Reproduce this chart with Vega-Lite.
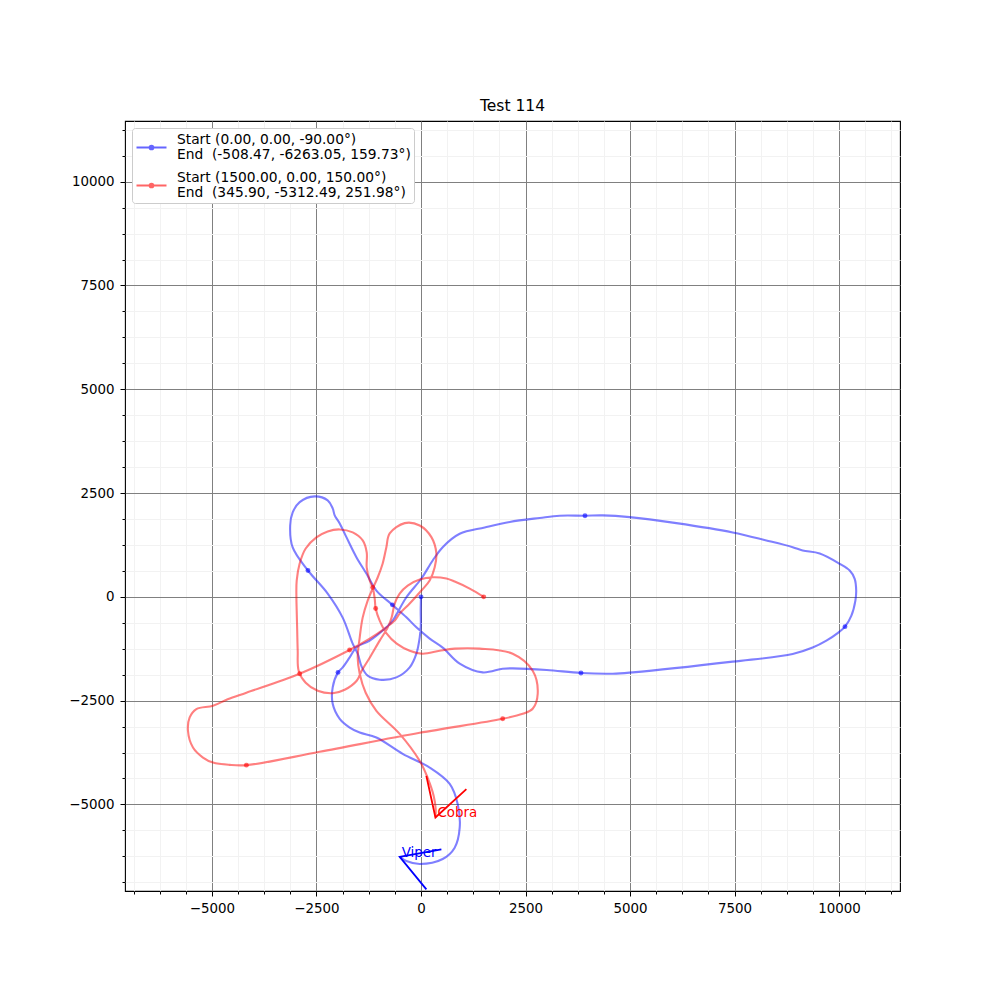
{
  "$schema": "https://vega.github.io/schema/vega-lite/v6.json",
  "width": 775,
  "height": 770,
  "autosize": "none",
  "padding": {"left": 125, "top": 121, "right": 100, "bottom": 109},
  "background": "white",
  "title": {"text": "Test 114", "font": "DejaVu Sans", "fontSize": 15.5, "fontWeight": "normal", "color": "black", "offset": 7},
  "config": {
    "view": {"stroke": "black", "strokeWidth": 1.1},
    "legend": {
      "title": null, "orient": "top-left", "offset": 7, "padding": 3,
      "strokeColor": "#cccccc", "fillColor": "#ffffff", "cornerRadius": 3,
      "labelFont": "DejaVu Sans", "labelFontSize": 13.8, "labelColor": "black", "labelLimit": 400, "labelOffset": 9,
      "symbolType": "M-1,0L1,0M-0.12,0a0.12,0.12 0 1,0 0.24,0a0.12,0.12 0 1,0 -0.24,0",
      "symbolSize": 900, "symbolStrokeWidth": 2.1, "symbolOpacity": 0.6, "rowPadding": 7
    }
  },
  "datasets": {
    "paths": [
      {"s":"Viper","i":1,"x":0,"y":0},{"s":"Viper","i":2,"x":-7,"y":-330},{"s":"Viper","i":3,"x":-5,"y":-692},{"s":"Viper","i":4,"x":-31,"y":-982},
      {"s":"Viper","i":5,"x":-110,"y":-1368},{"s":"Viper","i":6,"x":-270,"y":-1699},{"s":"Viper","i":7,"x":-588,"y":-1940},{"s":"Viper","i":8,"x":-988,"y":-1995},
      {"s":"Viper","i":9,"x":-1275,"y":-1899},{"s":"Viper","i":10,"x":-1418,"y":-1682},{"s":"Viper","i":11,"x":-1514,"y":-1368},{"s":"Viper","i":12,"x":-1634,"y":-1127},
      {"s":"Viper","i":13,"x":-1873,"y":-500},{"s":"Viper","i":14,"x":-2232,"y":80},{"s":"Viper","i":15,"x":-2703,"y":635},{"s":"Viper","i":16,"x":-3069,"y":1190},
      {"s":"Viper","i":17,"x":-3129,"y":1720},{"s":"Viper","i":18,"x":-3069,"y":2034},{"s":"Viper","i":19,"x":-2902,"y":2283},{"s":"Viper","i":20,"x":-2543,"y":2420},
      {"s":"Viper","i":21,"x":-2232,"y":2324},{"s":"Viper","i":22,"x":-2112,"y":2131},{"s":"Viper","i":23,"x":-2064,"y":1962},{"s":"Viper","i":24,"x":-1944,"y":1769},
      {"s":"Viper","i":25,"x":-1784,"y":1438},{"s":"Viper","i":26,"x":-1545,"y":956},{"s":"Viper","i":27,"x":-1306,"y":562},{"s":"Viper","i":28,"x":-1067,"y":152},
      {"s":"Viper","i":29,"x":-684,"y":-193},{"s":"Viper","i":30,"x":-349,"y":-492},{"s":"Viper","i":31,"x":-110,"y":-734},{"s":"Viper","i":32,"x":208,"y":-1006},
      {"s":"Viper","i":33,"x":519,"y":-1223},{"s":"Viper","i":34,"x":926,"y":-1609},{"s":"Viper","i":35,"x":1476,"y":-1819},{"s":"Viper","i":36,"x":1954,"y":-1730},
      {"s":"Viper","i":37,"x":2198,"y":-1723},{"s":"Viper","i":38,"x":3007,"y":-1761},{"s":"Viper","i":39,"x":3827,"y":-1834},{"s":"Viper","i":40,"x":4585,"y":-1851},
      {"s":"Viper","i":41,"x":5064,"y":-1819},{"s":"Viper","i":42,"x":7456,"y":-1561},{"s":"Viper","i":43,"x":8891,"y":-1376},{"s":"Viper","i":44,"x":9369,"y":-1221},
      {"s":"Viper","i":45,"x":9697,"y":-1054},{"s":"Viper","i":46,"x":9967,"y":-873},{"s":"Viper","i":47,"x":10142,"y":-717},{"s":"Viper","i":48,"x":10295,"y":-452},
      {"s":"Viper","i":49,"x":10391,"y":-89},{"s":"Viper","i":50,"x":10410,"y":152},{"s":"Viper","i":51,"x":10374,"y":434},{"s":"Viper","i":52,"x":10255,"y":634},
      {"s":"Viper","i":53,"x":10016,"y":796},{"s":"Viper","i":54,"x":9537,"y":1045},{"s":"Viper","i":55,"x":9130,"y":1117},{"s":"Viper","i":56,"x":8891,"y":1197},
      {"s":"Viper","i":57,"x":8262,"y":1359},{"s":"Viper","i":58,"x":7456,"y":1552},{"s":"Viper","i":59,"x":6109,"y":1776},{"s":"Viper","i":60,"x":4992,"y":1921},
      {"s":"Viper","i":61,"x":4346,"y":1962},{"s":"Viper","i":62,"x":3923,"y":1955},{"s":"Viper","i":63,"x":3318,"y":1955},{"s":"Viper","i":64,"x":2839,"y":1901},
      {"s":"Viper","i":65,"x":2122,"y":1805},{"s":"Viper","i":66,"x":1524,"y":1672},{"s":"Viper","i":67,"x":926,"y":1520},{"s":"Viper","i":68,"x":519,"y":1197},
      {"s":"Viper","i":69,"x":280,"y":876},{"s":"Viper","i":70,"x":10,"y":442},{"s":"Viper","i":71,"x":-349,"y":-10},{"s":"Viper","i":72,"x":-677,"y":-572},
      {"s":"Viper","i":73,"x":-828,"y":-734},{"s":"Viper","i":74,"x":-1227,"y":-1054},{"s":"Viper","i":75,"x":-1545,"y":-1216},{"s":"Viper","i":76,"x":-1705,"y":-1457},
      {"s":"Viper","i":77,"x":-1873,"y":-1699},{"s":"Viper","i":78,"x":-1985,"y":-1819},{"s":"Viper","i":79,"x":-2112,"y":-2181},{"s":"Viper","i":80,"x":-2112,"y":-2575},
      {"s":"Viper","i":81,"x":-1944,"y":-2937},{"s":"Viper","i":82,"x":-1705,"y":-3147},{"s":"Viper","i":83,"x":-1466,"y":-3267},{"s":"Viper","i":84,"x":-1067,"y":-3388},
      {"s":"Viper","i":85,"x":-438,"y":-3781},{"s":"Viper","i":86,"x":208,"y":-4112},{"s":"Viper","i":87,"x":687,"y":-4505},{"s":"Viper","i":88,"x":878,"y":-4988},
      {"s":"Viper","i":89,"x":926,"y":-5560},{"s":"Viper","i":90,"x":806,"y":-6042},{"s":"Viper","i":91,"x":519,"y":-6315},{"s":"Viper","i":92,"x":-31,"y":-6436},
      {"s":"Viper","i":93,"x":-349,"y":-6364},{"s":"Viper","i":94,"x":-508.47,"y":-6263.05},
      {"s":"Cobra","i":1,"x":1500,"y":0},{"s":"Cobra","i":2,"x":1165,"y":200},{"s":"Cobra","i":3,"x":806,"y":369},{"s":"Cobra","i":4,"x":608,"y":442},
      {"s":"Cobra","i":5,"x":280,"y":473},{"s":"Cobra","i":6,"x":-31,"y":417},{"s":"Cobra","i":7,"x":-318,"y":273},{"s":"Cobra","i":8,"x":-510,"y":80},
      {"s":"Cobra","i":9,"x":-629,"y":-162},{"s":"Cobra","i":10,"x":-701,"y":-492},{"s":"Cobra","i":11,"x":-797,"y":-741},{"s":"Cobra","i":12,"x":-988,"y":-1054},
      {"s":"Cobra","i":13,"x":-1227,"y":-1465},{"s":"Cobra","i":14,"x":-1418,"y":-1779},{"s":"Cobra","i":15,"x":-1538,"y":-2020},{"s":"Cobra","i":16,"x":-1825,"y":-2237},
      {"s":"Cobra","i":17,"x":-2112,"y":-2321},{"s":"Cobra","i":18,"x":-2471,"y":-2261},{"s":"Cobra","i":19,"x":-2758,"y":-2068},{"s":"Cobra","i":20,"x":-2926,"y":-1779},
      {"s":"Cobra","i":21,"x":-2949,"y":-1297},{"s":"Cobra","i":22,"x":-2961,"y":-813},{"s":"Cobra","i":23,"x":-2973,"y":-331},{"s":"Cobra","i":24,"x":-2980,"y":-17},
      {"s":"Cobra","i":25,"x":-2973,"y":393},{"s":"Cobra","i":26,"x":-2902,"y":803},{"s":"Cobra","i":27,"x":-2758,"y":1165},{"s":"Cobra","i":28,"x":-2502,"y":1431},
      {"s":"Cobra","i":29,"x":-2232,"y":1576},{"s":"Cobra","i":30,"x":-1944,"y":1624},{"s":"Cobra","i":31,"x":-1633,"y":1552},{"s":"Cobra","i":32,"x":-1394,"y":1359},
      {"s":"Cobra","i":33,"x":-1298,"y":1069},{"s":"Cobra","i":34,"x":-1298,"y":707},{"s":"Cobra","i":35,"x":-1227,"y":393},{"s":"Cobra","i":36,"x":-1155,"y":224},
      {"s":"Cobra","i":37,"x":-1107,"y":-41},{"s":"Cobra","i":38,"x":-1084,"y":-282},{"s":"Cobra","i":39,"x":-988,"y":-572},{"s":"Cobra","i":40,"x":-820,"y":-886},
      {"s":"Cobra","i":41,"x":-581,"y":-1127},{"s":"Cobra","i":42,"x":-270,"y":-1297},{"s":"Cobra","i":43,"x":41,"y":-1369},{"s":"Cobra","i":44,"x":447,"y":-1297},
      {"s":"Cobra","i":45,"x":806,"y":-1248},{"s":"Cobra","i":46,"x":1404,"y":-1248},{"s":"Cobra","i":47,"x":2193,"y":-1369},{"s":"Cobra","i":48,"x":2672,"y":-1779},
      {"s":"Cobra","i":49,"x":2792,"y":-2334},{"s":"Cobra","i":50,"x":2672,"y":-2696},{"s":"Cobra","i":51,"x":2433,"y":-2816},{"s":"Cobra","i":52,"x":1954,"y":-2937},
      {"s":"Cobra","i":53,"x":-31,"y":-3275},{"s":"Cobra","i":54,"x":-2423,"y":-3733},{"s":"Cobra","i":55,"x":-4176,"y":-4054},{"s":"Cobra","i":56,"x":-4577,"y":-4047},
      {"s":"Cobra","i":57,"x":-4975,"y":-3991},{"s":"Cobra","i":58,"x":-5215,"y":-3870},{"s":"Cobra","i":59,"x":-5454,"y":-3629},{"s":"Cobra","i":60,"x":-5574,"y":-3226},
      {"s":"Cobra","i":61,"x":-5533,"y":-2905},{"s":"Cobra","i":62,"x":-5373,"y":-2703},{"s":"Cobra","i":63,"x":-4975,"y":-2623},{"s":"Cobra","i":64,"x":-4624,"y":-2468},
      {"s":"Cobra","i":65,"x":-4176,"y":-2307},{"s":"Cobra","i":66,"x":-2902,"y":-1851},{"s":"Cobra","i":67,"x":-1708,"y":-1279},{"s":"Cobra","i":68,"x":-1227,"y":-1006},
      {"s":"Cobra","i":69,"x":-868,"y":-765},{"s":"Cobra","i":70,"x":-629,"y":-572},{"s":"Cobra","i":71,"x":-510,"y":-403},{"s":"Cobra","i":72,"x":-270,"y":-162},
      {"s":"Cobra","i":73,"x":10,"y":152},{"s":"Cobra","i":74,"x":208,"y":393},{"s":"Cobra","i":75,"x":328,"y":714},{"s":"Cobra","i":76,"x":368,"y":1045},
      {"s":"Cobra","i":77,"x":249,"y":1438},{"s":"Cobra","i":78,"x":-31,"y":1720},{"s":"Cobra","i":79,"x":-390,"y":1776},{"s":"Cobra","i":80,"x":-749,"y":1527},
      {"s":"Cobra","i":81,"x":-828,"y":1197},{"s":"Cobra","i":82,"x":-916,"y":804},{"s":"Cobra","i":83,"x":-1036,"y":466},{"s":"Cobra","i":84,"x":-1155,"y":200},
      {"s":"Cobra","i":85,"x":-1275,"y":-89},{"s":"Cobra","i":86,"x":-1395,"y":-500},{"s":"Cobra","i":87,"x":-1466,"y":-982},{"s":"Cobra","i":88,"x":-1514,"y":-1465},
      {"s":"Cobra","i":89,"x":-1466,"y":-1851},{"s":"Cobra","i":90,"x":-1323,"y":-2309},{"s":"Cobra","i":91,"x":-1067,"y":-2744},{"s":"Cobra","i":92,"x":-510,"y":-3299},
      {"s":"Cobra","i":93,"x":-31,"y":-3950},{"s":"Cobra","i":94,"x":160,"y":-4360},{"s":"Cobra","i":95,"x":304,"y":-4795},{"s":"Cobra","i":96,"x":352,"y":-5109},
      {"s":"Cobra","i":97,"x":345.9,"y":-5312.49}
    ],
    "markers": [
      {"s":"Viper","x":0,"y":0},{"s":"Viper","x":-2703,"y":635},{"s":"Viper","x":-684,"y":-193},{"s":"Viper","x":3827,"y":-1834},
      {"s":"Viper","x":10142,"y":-717},{"s":"Viper","x":3923,"y":1955},{"s":"Viper","x":-1985,"y":-1819},
      {"s":"Cobra","x":1500,"y":0},{"s":"Cobra","x":-1155,"y":224},{"s":"Cobra","x":-1084,"y":-282},{"s":"Cobra","x":1954,"y":-2937},
      {"s":"Cobra","x":-4176,"y":-4054},{"s":"Cobra","x":-2902,"y":-1851},{"s":"Cobra","x":-1708,"y":-1279}
    ],
    "glyphs": [
      {"s":"Cobra","i":1,"x":128,"y":-4313},{"s":"Cobra","i":2,"x":345.9,"y":-5312.49},{"s":"Cobra","i":3,"x":1086,"y":-4633},
      {"s":"Viper","i":1,"x":488,"y":-6081},{"s":"Viper","i":2,"x":-508.47,"y":-6263.05},{"s":"Viper","i":3,"x":129,"y":-7046}
    ],
    "tags": [
      {"s":"Cobra","x":345.9,"y":-5312.49},
      {"s":"Viper","x":-508.47,"y":-6263.05}
    ]
  },
  "encoding": {
    "x": {
      "field": "x", "type": "quantitative",
      "scale": {"domain": [-7080, 11458], "nice": false, "zero": false},
      "axis": {
        "title": null, "domain": false, "format": "d",
        "values": [-6875,-6250,-5625,-5000,-4375,-3750,-3125,-2500,-1875,-1250,-625,0,625,1250,1875,2500,3125,3750,4375,5000,5625,6250,6875,7500,8125,8750,9375,10000,10625,11250],
        "labelExpr": "datum.value % 2500 === 0 ? datum.label : ''",
        "labelOverlap": false, "labelFlush": false,
        "labelFont": "DejaVu Sans", "labelFontSize": 13.4, "labelColor": "black", "labelPadding": 5,
        "tickColor": "black", "tickWidth": 1,
        "tickSize": {"condition": {"test": "datum.value % 2500 === 0", "value": 5}, "value": 3},
        "grid": true, "gridWidth": 1,
        "gridColor": {"condition": {"test": "datum.value % 2500 === 0", "value": "#808080"}, "value": "#f2f2f2"}
      }
    },
    "y": {
      "field": "y", "type": "quantitative",
      "scale": {"domain": [-7085, 11462], "nice": false, "zero": false},
      "axis": {
        "title": null, "domain": false, "format": "d",
        "values": [-6875,-6250,-5625,-5000,-4375,-3750,-3125,-2500,-1875,-1250,-625,0,625,1250,1875,2500,3125,3750,4375,5000,5625,6250,6875,7500,8125,8750,9375,10000,10625,11250],
        "labelExpr": "datum.value % 2500 === 0 ? datum.label : ''",
        "labelOverlap": false, "labelFlush": false,
        "labelFont": "DejaVu Sans", "labelFontSize": 13.4, "labelColor": "black", "labelPadding": 6,
        "tickColor": "black", "tickWidth": 1,
        "tickSize": {"condition": {"test": "datum.value % 2500 === 0", "value": 5}, "value": 3},
        "grid": true, "gridWidth": 1,
        "gridColor": {"condition": {"test": "datum.value % 2500 === 0", "value": "#808080"}, "value": "#f2f2f2"}
      }
    }
  },
  "layer": [
    {
      "data": {"name": "paths"},
      "mark": {"type": "line", "interpolate": "catmull-rom", "strokeWidth": 2.1, "opacity": 0.5, "clip": true},
      "encoding": {
        "order": {"field": "i", "type": "quantitative"},
        "color": {
          "field": "s", "type": "nominal",
          "scale": {"domain": ["Viper", "Cobra"], "range": ["#0000ff", "#ff0000"]},
          "legend": {
            "labelBaseline": "alphabetic",
            "labelExpr": "datum.label == 'Viper' ? ['Start (0.00, 0.00, -90.00°)', '\u00a0End\u00a0\u00a0(-508.47, -6263.05, 159.73°)'] : ['Start (1500.00, 0.00, 150.00°)', '\u00a0End\u00a0\u00a0(345.90, -5312.49, 251.98°)']",
            "encode": {"labels": {"update": {"lineHeight": {"value": 15}, "dy": {"value": -4}}}}
          }
        }
      }
    },
    {
      "data": {"name": "markers"},
      "mark": {"type": "circle", "size": 24, "opacity": 0.6},
      "encoding": {
        "color": {"field": "s", "type": "nominal", "legend": null}
      }
    },
    {
      "data": {"name": "glyphs"},
      "mark": {"type": "line", "strokeWidth": 1.8, "clip": true},
      "encoding": {
        "order": {"field": "i", "type": "quantitative"},
        "color": {"field": "s", "type": "nominal", "legend": null}
      }
    },
    {
      "data": {"name": "tags"},
      "mark": {"type": "text", "align": "left", "baseline": "alphabetic", "dx": 2, "font": "DejaVu Sans", "fontSize": 13.4},
      "encoding": {
        "text": {"field": "s"},
        "color": {"field": "s", "type": "nominal", "legend": null}
      }
    }
  ]
}
